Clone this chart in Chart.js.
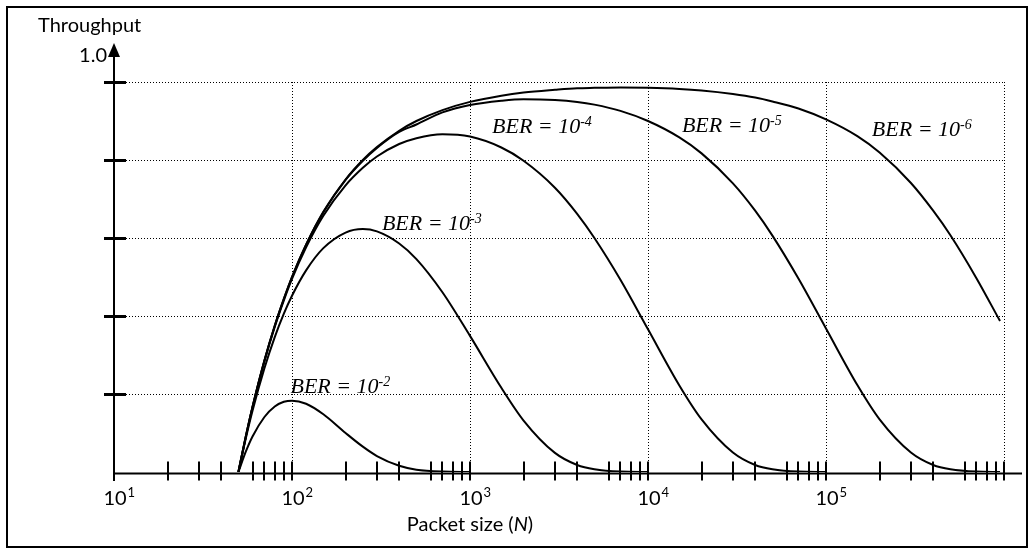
<!DOCTYPE html>
<html>
<head>
<meta charset="utf-8">
<script src="https://cdn.jsdelivr.net/npm/chart.js@4/dist/chart.umd.min.js"></script>
<style>
  html, body { margin: 0; padding: 0; background: #fff; }
  #wrap { width: 1034px; height: 554px; position: relative; }
</style>
</head>
<body>
<div id="wrap"><canvas id="c" width="1034" height="554"></canvas></div>
<script>
// ---- data ----
const packetSizes = [50, 55, 60, 70, 80, 90, 100, 120, 150, 200, 250, 300, 400, 500, 700, 1000, 1500, 2000, 3000, 4000, 5000, 7000, 10000, 15000, 20000, 30000, 40000, 50000, 70000, 100000, 150000, 200000, 300000, 400000, 500000, 700000, 950000];

const ber2 = [0, 0.052, 0.091, 0.141, 0.168, 0.180, 0.183, 0.175, 0.148, 0.100, 0.065, 0.041, 0.016, 0.006, 0.001, 0, null, null, null, null, null, null, null, null, null, null, null, null, null, null, null, null, null, null, null, null, null];
const ber3 = [0, 0.086, 0.157, 0.266, 0.346, 0.406, 0.452, 0.517, 0.574, 0.614, 0.623, 0.617, 0.586, 0.546, 0.461, 0.349, 0.216, 0.132, 0.049, 0.018, 0.007, 0.001, 0, null, null, null, null, null, null, null, null, null, null, null, null, null, null];
const ber4 = [0, 0.090, 0.166, 0.284, 0.372, 0.440, 0.495, 0.576, 0.657, 0.735, 0.780, 0.809, 0.841, 0.856, 0.866, 0.860, 0.832, 0.798, 0.729, 0.662, 0.600, 0.493, 0.366, 0.222, 0.135, 0.050, 0.018, 0.007, 0.001, 0, null, null, null, null, null, null, null];
const ber5 = [0, 0.091, 0.167, 0.286, 0.375, 0.444, 0.500, 0.583, 0.666, 0.749, 0.798, 0.831, 0.872, 0.891, 0.922, 0.941, 0.952, 0.956, 0.954, 0.949, 0.942, 0.926, 0.900, 0.858, 0.817, 0.740, 0.670, 0.606, 0.496, 0.368, 0.223, 0.135, 0.050, 0.018, 0.007, 0.001, 0];
const ber6 = [0, 0.091, 0.167, 0.286, 0.375, 0.444, 0.500, 0.583, 0.667, 0.750, 0.800, 0.833, 0.875, 0.900, 0.928, 0.949, 0.965, 0.973, 0.980, 0.984, 0.985, 0.986, 0.985, 0.982, 0.978, 0.969, 0.960, 0.950, 0.932, 0.904, 0.861, 0.819, 0.741, 0.670, 0.607, 0.497, 0.387];

const seriesNames = ['BER = 10-2', 'BER = 10-3', 'BER = 10-4', 'BER = 10-5', 'BER = 10-6'];
const berExponents = ['-2', '-3', '-4', '-5', '-6'];
const xTickExponents = ['1', '2', '3', '4', '5'];
const xDecades = [10, 100, 1000, 10000, 100000, 1000000];
const xMinorMultipliers = [2, 3, 4, 6, 7, 8, 9];
const yTickValues = [0.2, 0.4, 0.6, 0.8, 1.0];
const yTopLabel = '1.0';
const yTitle = 'Throughput';
const xTitle = 'Packet size (';
const xTitleItalic = 'N';
// curve label anchors (data space: packet size, throughput at text baseline)
const labelAnchorN = [98, 320, 1330, 15500, 181000];
const labelAnchorY = [0.203, 0.621, 0.869, 0.872, 0.862];

// ---- build datasets ----
const allSeries = [ber2, ber3, ber4, ber5, ber6];
const datasets = allSeries.map((vals, i) => ({
  label: seriesNames[i],
  data: packetSizes.map((n, k) => ({ x: n, y: vals[k] })),
  borderColor: '#000',
  borderWidth: 2,
  pointRadius: 0,
  fill: false,
  cubicInterpolationMode: 'monotone',
  spanGaps: false
}));

const SANS = 'Lato, "Liberation Sans", sans-serif';
const SERIF = '"Liberation Serif", "DejaVu Serif", serif';

const decor = {
  id: 'decor',
  beforeDatasetsDraw(chart) {
    const ctx = chart.ctx;
    const xs = chart.scales.x, ys = chart.scales.y;
    const x0 = xs.getPixelForValue(10);
    const xEnd = xs.getPixelForValue(1000000);
    const yTop = ys.getPixelForValue(1.0);
    const yZero = ys.getPixelForValue(0);
    ctx.save();
    ctx.strokeStyle = '#000';
    ctx.lineWidth = 1;
    ctx.setLineDash([1, 2]);
    yTickValues.forEach(v => {
      const py = Math.round(ys.getPixelForValue(v)) + 0.5;
      ctx.beginPath();
      ctx.moveTo(x0 + 12, py);
      ctx.lineTo(xEnd, py);
      ctx.stroke();
    });
    xDecades.slice(1).forEach(d => {
      const px = Math.round(xs.getPixelForValue(d)) + 0.5;
      ctx.beginPath();
      ctx.moveTo(px, yTop);
      ctx.lineTo(px, yZero);
      ctx.stroke();
    });
    ctx.restore();
  },
  afterDatasetsDraw(chart) {
    const ctx = chart.ctx;
    const xs = chart.scales.x, ys = chart.scales.y;
    const x0 = xs.getPixelForValue(10);
    const xEnd = xs.getPixelForValue(1000000);
    const yZero = ys.getPixelForValue(0);
    const yTop = ys.getPixelForValue(1.0);
    ctx.save();
    ctx.strokeStyle = '#000';
    ctx.fillStyle = '#000';
    ctx.setLineDash([]);
    // outer border
    ctx.lineWidth = 2;
    ctx.strokeRect(7, 7, chart.width - 14, chart.height - 14);
    // y axis
    ctx.lineWidth = 2;
    ctx.beginPath();
    ctx.moveTo(x0, yTop - 26);
    ctx.lineTo(x0, yZero + 9);
    ctx.stroke();
    // arrow
    ctx.beginPath();
    ctx.moveTo(x0, yTop - 39);
    ctx.lineTo(x0 - 6, yTop - 25);
    ctx.lineTo(x0 + 6, yTop - 25);
    ctx.closePath();
    ctx.fill();
    // x axis
    const axY = yZero + 1.5;
    ctx.beginPath();
    ctx.moveTo(x0, axY);
    ctx.lineTo(xEnd + 18, axY);
    ctx.stroke();
    // y ticks
    ctx.lineWidth = 3;
    yTickValues.forEach(v => {
      const py = Math.round(ys.getPixelForValue(v)) + 0.5;
      ctx.beginPath();
      ctx.moveTo(x0 - 10, py);
      ctx.lineTo(x0 + 12, py);
      ctx.stroke();
    });
    // x ticks
    ctx.lineWidth = 2;
    const tickVals = [];
    xDecades.slice(0, 5).forEach(d => xMinorMultipliers.forEach(m => tickVals.push(d * m)));
    xDecades.slice(1).forEach(d => tickVals.push(d));
    tickVals.forEach(v => {
      const px = Math.round(xs.getPixelForValue(v));
      ctx.beginPath();
      ctx.moveTo(px, axY - 12);
      ctx.lineTo(px, axY + 7);
      ctx.stroke();
    });
    // x tick labels
    ctx.textBaseline = 'alphabetic';
    xTickExponents.forEach((e, i) => {
      const px = xs.getPixelForValue(xDecades[i]);
      ctx.font = '20px ' + SANS;
      ctx.textAlign = 'center';
      ctx.fillText('10', px + 1, 505);
      const w = ctx.measureText('10').width;
      ctx.font = '13px ' + SANS;
      ctx.textAlign = 'left';
      ctx.fillText(e, px + 1 + w / 2 + 1, 497);
    });
    // x title
    ctx.font = '20px ' + SANS;
    const w1 = ctx.measureText(xTitle).width;
    ctx.font = 'italic 20px ' + SANS;
    const w2 = ctx.measureText(xTitleItalic).width;
    ctx.font = '20px ' + SANS;
    const w3 = ctx.measureText(')').width;
    const cx = xs.getPixelForValue(1000);
    let sx = cx - (w1 + w2 + w3) / 2;
    ctx.textAlign = 'left';
    ctx.fillText(xTitle, sx, 531);
    ctx.font = 'italic 20px ' + SANS;
    ctx.fillText(xTitleItalic, sx + w1, 531);
    ctx.font = '20px ' + SANS;
    ctx.fillText(')', sx + w1 + w2, 531);
    // y title and top label
    ctx.textAlign = 'left';
    ctx.fillText(yTitle, 38, 32);
    ctx.textAlign = 'right';
    ctx.fillText(yTopLabel, x0 - 7, 62);
    // curve labels
    ctx.textAlign = 'left';
    berExponents.forEach((e, i) => {
      const px = xs.getPixelForValue(labelAnchorN[i]);
      const py = ys.getPixelForValue(labelAnchorY[i]);
      ctx.font = 'italic 22px ' + SERIF;
      const base = 'BER = 10';
      ctx.fillText(base, px, py);
      const bw = ctx.measureText(base).width;
      ctx.font = 'italic 14px ' + SERIF;
      ctx.fillText(e, px + bw, py - 7);
    });
    ctx.restore();
  }
};

new Chart(document.getElementById('c'), {
  type: 'line',
  data: { datasets },
  options: {
    responsive: false,
    animation: false,
    devicePixelRatio: 1,
    layout: { padding: { left: 114, right: 30, top: 82, bottom: 82 } },
    plugins: { legend: { display: false }, tooltip: { enabled: false } },
    scales: {
      x: { type: 'logarithmic', min: 10, max: 1000000, display: false },
      y: { type: 'linear', min: 0, max: 1, display: false }
    }
  },
  plugins: [decor]
});
</script>
</body>
</html>
